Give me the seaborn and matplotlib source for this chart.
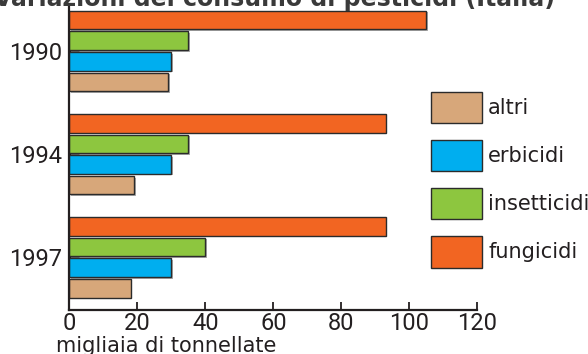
import matplotlib
matplotlib.use("Agg")
import matplotlib.pyplot as plt
import matplotlib.patheffects as pe
from matplotlib import font_manager
from matplotlib.patches import Patch
import pandas as pd
import seaborn as sns

# Pesticide consumption in Italy, thousands of tonnes
years = ["1990", "1994", "1997"]
fungicidi = [105, 93, 93]
insetticidi = [35, 35, 40]
erbicidi = [30, 30, 30]
altri = [29, 19, 18]
categories = ["fungicidi", "insetticidi", "erbicidi", "altri"]
legend_order = ["altri", "erbicidi", "insetticidi", "fungicidi"]
x_ticks = [0, 20, 40, 60, 80, 100, 120]
title = "Variazioni del consumo di pesticidi (Italia)"
xlabel = "migliaia di tonnellate"

colors = {
    "fungicidi": "#F26522",
    "insetticidi": "#8DC63F",
    "erbicidi": "#00AEEF",
    "altri": "#D7A77A",
}
ink = "#231F20"

series = {"fungicidi": fungicidi, "insetticidi": insetticidi,
          "erbicidi": erbicidi, "altri": altri}
df = pd.DataFrame(
    [(y, c, v) for c in categories for y, v in zip(years, series[c])],
    columns=["anno", "tipo", "valore"],
)

sns.set_theme(style="white")
plt.rcParams["font.family"] = ["DejaVu Sans"]

# narrow face for the tick numbers, if one is available
installed = {f.name for f in font_manager.fontManager.ttflist}
if "Liberation Sans Narrow" in installed:
    tick_family, tick_size = "Liberation Sans Narrow", 19
else:
    tick_family, tick_size = "Roboto", 17

fig = plt.figure(figsize=(5.88, 3.54), dpi=100)
ax = fig.add_axes([0.1179, 0.1243, 0.6939, 0.8616])

sns.barplot(
    data=df, y="anno", x="valore", hue="tipo",
    order=years, hue_order=categories, palette=colors, saturation=1,
    orient="h", width=0.8, gap=0.1, errorbar=None,
    edgecolor="#2B2B2B", linewidth=1.0, legend=False, ax=ax,
)

shadow = [pe.SimplePatchShadow(offset=(1.2, -1.2), shadow_rgbFace="#8A8A8A", alpha=0.7),
          pe.Normal()]
for p in ax.patches:
    p.set_path_effects(shadow)

ax.set_xlim(0, 120)
ax.set_ylim(2.51, -0.446)
ax.set_xticks(x_ticks)
ax.set_xticklabels([str(t) for t in x_ticks])
ax.set_xlabel("")
ax.set_ylabel("")

for side in ("top", "right"):
    ax.spines[side].set_visible(False)
for side in ("left", "bottom"):
    ax.spines[side].set_color(ink)
    ax.spines[side].set_linewidth(1.6)

ax.tick_params(axis="x", direction="in", length=5.5, width=1.3, color=ink,
               pad=1.5, labelcolor=ink, bottom=True)
ax.tick_params(axis="y", direction="in", length=7, width=2.2, color=ink,
               pad=5, labelcolor=ink, left=True)
for lab in ax.get_xticklabels() + ax.get_yticklabels():
    lab.set_fontfamily([tick_family, "DejaVu Sans"])
    lab.set_fontsize(tick_size)

handles = [Patch(facecolor=colors[c], edgecolor="#2B2B2B", linewidth=1.0, label=c)
           for c in legend_order]
fs = 15
fig.legend(
    handles=handles, loc="upper left", bbox_to_anchor=(431 / 588, 1 - 92 / 354),
    frameon=False, fontsize=fs, borderpad=0, borderaxespad=0,
    handlelength=2.45, handleheight=1.94, labelspacing=0.8, handletextpad=0.29,
    labelcolor=ink,
)

fig.text(555 / 588, 1 - 6 / 354, title, ha="right", va="baseline",
         fontsize=17, fontweight="bold", color="#3A3A3A")
fig.text(56 / 588, 1 - 352 / 354, xlabel, ha="left", va="baseline",
         fontsize=15, color=ink)

fig.savefig("out.png", dpi=100)
